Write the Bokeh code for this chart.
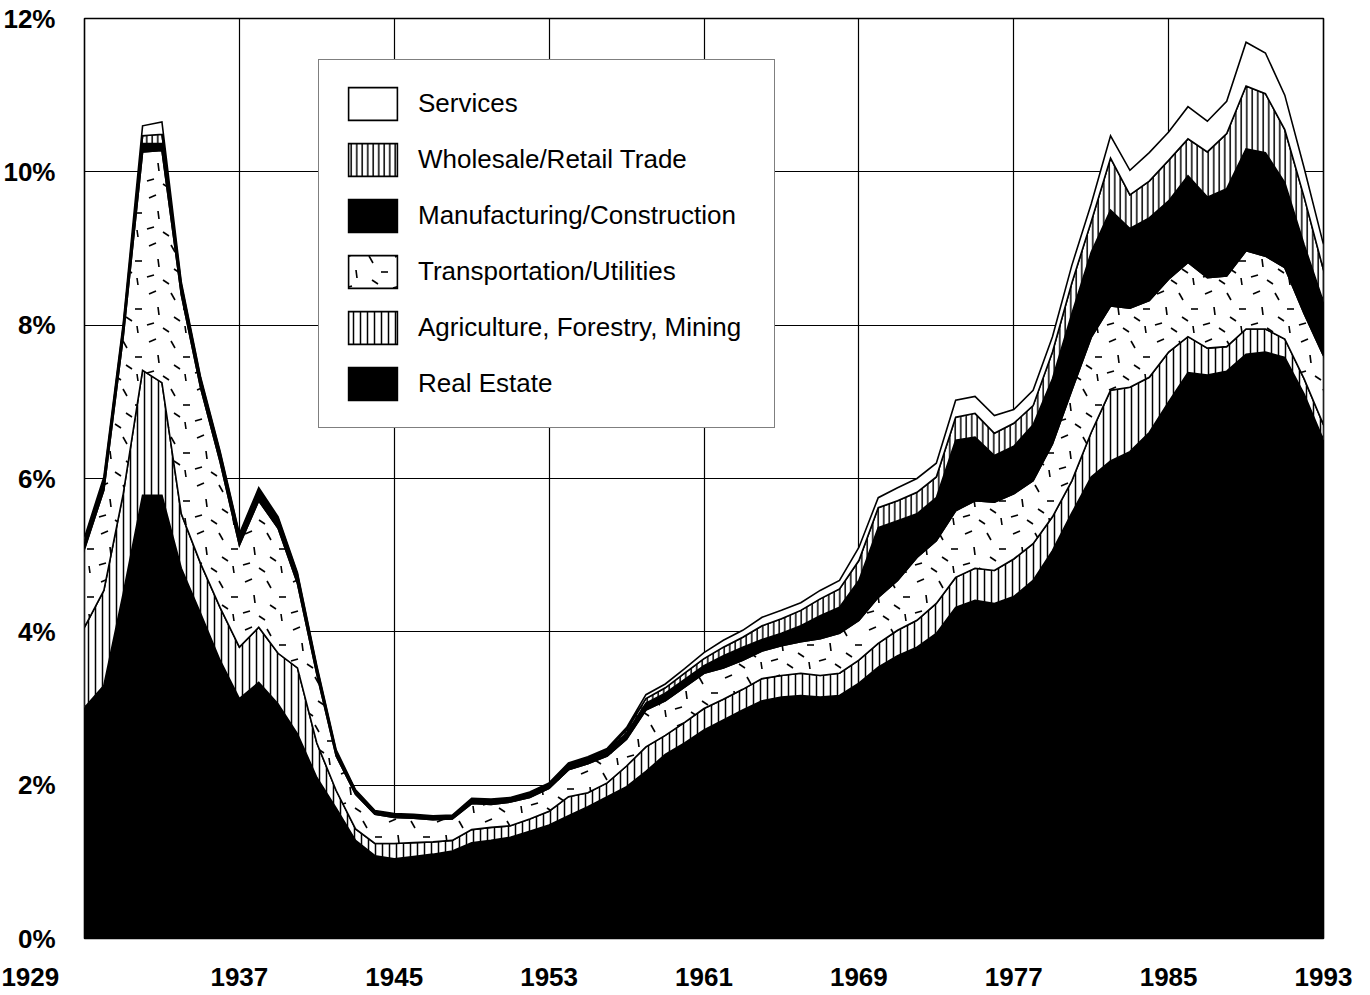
import base64
import numpy as np
from bokeh.plotting import figure
from bokeh.models import FixedTicker, Legend, LegendItem, Range1d, ImageURLTexture
from bokeh.embed import file_html
from bokeh.resources import INLINE

years = list(range(1929, 1994))

real_estate = [3.01, 3.30, 4.50, 5.78, 5.78, 4.83, 4.24, 3.63, 3.13, 3.34,
               3.06, 2.67, 2.10, 1.70, 1.28, 1.08, 1.04, 1.07, 1.10, 1.14,
               1.25, 1.28, 1.32, 1.40, 1.48, 1.60, 1.72, 1.85, 1.98, 2.18,
               2.40, 2.55, 2.72, 2.85, 2.98, 3.10, 3.15, 3.17, 3.15, 3.17,
               3.33, 3.54, 3.69, 3.80, 3.98, 4.32, 4.41, 4.37, 4.46, 4.67,
               5.06, 5.55, 6.02, 6.23, 6.35, 6.60, 7.00, 7.38, 7.35, 7.40,
               7.62, 7.65, 7.58, 7.10, 6.50]
agriculture = [1.05, 1.24, 1.30, 1.63, 1.47, 0.71, 0.65, 0.69, 0.67, 0.72,
               0.66, 0.86, 0.45, 0.23, 0.15, 0.16, 0.20, 0.18, 0.16, 0.14,
               0.17, 0.17, 0.15, 0.16, 0.18, 0.25, 0.18, 0.18, 0.27, 0.32,
               0.25, 0.27, 0.28, 0.27, 0.27, 0.29, 0.28, 0.29, 0.28, 0.29,
               0.30, 0.31, 0.33, 0.35, 0.39, 0.39, 0.42, 0.43, 0.49, 0.48,
               0.44, 0.42, 0.58, 0.92, 0.84, 0.72, 0.65, 0.47, 0.35, 0.32,
               0.33, 0.30, 0.24, 0.20, 0.20]
transport = [1.02, 1.31, 2.05, 2.85, 3.03, 2.86, 2.29, 1.90, 1.33, 1.65,
             1.63, 1.10, 0.90, 0.45, 0.45, 0.38, 0.34, 0.32, 0.29, 0.28,
             0.34, 0.30, 0.31, 0.28, 0.30, 0.35, 0.38, 0.35, 0.35, 0.48,
             0.45, 0.46, 0.46, 0.41, 0.38, 0.36, 0.39, 0.41, 0.48, 0.52,
             0.52, 0.60, 0.65, 0.82, 0.82, 0.87, 0.88, 0.89, 0.85, 0.82,
             0.95, 1.18, 1.24, 1.10, 1.03, 1.00, 0.95, 0.97, 0.92, 0.92,
             1.02, 0.95, 0.93, 0.85, 0.90]
manufacturing = [0.09, 0.10, 0.10, 0.11, 0.09, 0.10, 0.09, 0.09, 0.10, 0.11,
                 0.10, 0.09, 0.07, 0.04, 0.03, 0.03, 0.03, 0.03, 0.03, 0.03,
                 0.04, 0.04, 0.04, 0.04, 0.04, 0.05, 0.05, 0.06, 0.08, 0.09,
                 0.10, 0.10, 0.10, 0.16, 0.17, 0.15, 0.16, 0.21, 0.30, 0.34,
                 0.52, 0.91, 0.78, 0.57, 0.56, 0.92, 0.83, 0.61, 0.62, 0.73,
                 0.85, 1.00, 1.11, 1.25, 1.04, 1.08, 1.02, 1.13, 1.05, 1.14,
                 1.33, 1.35, 1.11, 0.90, 0.70]
trade = [0.03, 0.03, 0.03, 0.10, 0.12, 0.03, 0.03, 0.03, 0.03, 0.03,
         0.03, 0.03, 0.02, 0.02, 0.02, 0.01, 0.01, 0.01, 0.01, 0.01,
         0.01, 0.01, 0.01, 0.02, 0.02, 0.02, 0.02, 0.02, 0.04, 0.06,
         0.07, 0.08, 0.09, 0.11, 0.13, 0.18, 0.19, 0.20, 0.22, 0.24,
         0.26, 0.26, 0.26, 0.28, 0.27, 0.30, 0.31, 0.29, 0.30, 0.25,
         0.35, 0.40, 0.40, 0.68, 0.44, 0.48, 0.53, 0.48, 0.59, 0.72,
         0.82, 0.77, 0.69, 0.62, 0.42]
services = [0.03, 0.04, 0.04, 0.13, 0.16, 0.03, 0.02, 0.02, 0.02, 0.03,
            0.02, 0.02, 0.02, 0.02, 0.01, 0.01, 0.01, 0.01, 0.01, 0.01,
            0.02, 0.02, 0.01, 0.01, 0.01, 0.02, 0.02, 0.02, 0.03, 0.05,
            0.05, 0.06, 0.08, 0.09, 0.09, 0.11, 0.11, 0.10, 0.11, 0.11,
            0.17, 0.13, 0.17, 0.18, 0.18, 0.22, 0.22, 0.23, 0.18, 0.20,
            0.20, 0.23, 0.23, 0.29, 0.32, 0.37, 0.37, 0.42, 0.40, 0.42,
            0.57, 0.53, 0.45, 0.38, 0.33]

sector_names = ["Real Estate", "Agriculture, Forestry, Mining",
                "Transportation/Utilities", "Manufacturing/Construction",
                "Wholesale/Retail Trade", "Services"]
x_tick_years = [1929, 1937, 1945, 1953, 1961, 1969, 1977, 1985, 1993]
y_tick_values = [0, 2, 4, 6, 8, 10, 12]
y_tick_labels = ["0%", "2%", "4%", "6%", "8%", "10%", "12%"]

# scattered short dashes texture (Transportation/Utilities)
dash_svg = (
    "<svg xmlns='http://www.w3.org/2000/svg' width='48' height='48'>"
    "<g stroke='black' stroke-width='1.6' fill='none'>"
    "<line x1='5' y1='6' x2='12' y2='3'/>"
    "<line x1='27' y1='5' x2='31' y2='12'/>"
    "<line x1='39' y1='21' x2='46' y2='21'/>"
    "<line x1='14' y1='19' x2='15' y2='27'/>"
    "<line x1='30' y1='29' x2='36' y2='33'/>"
    "<line x1='3' y1='37' x2='10' y2='35'/>"
    "<line x1='19' y1='40' x2='25' y2='44'/>"
    "<line x1='41' y1='38' x2='42' y2='45'/>"
    "</g></svg>"
)
dash_url = "data:image/svg+xml;base64," + base64.b64encode(dash_svg.encode()).decode()
dash_texture = ImageURLTexture(url=dash_url, repetition="repeat")

series = [real_estate, agriculture, transport, manufacturing, trade, services]
styles = [
    dict(fill_color="black"),
    dict(fill_color="white", hatch_pattern="vertical_line", hatch_scale=7, hatch_weight=1.5, hatch_color="black"),
    dict(fill_color="white", hatch_pattern="scatter_dash", hatch_extra={"scatter_dash": dash_texture},
         hatch_color="black"),
    dict(fill_color="black"),
    dict(fill_color="white", hatch_pattern="vertical_line", hatch_scale=5.5, hatch_weight=1.5, hatch_color="black"),
    dict(fill_color="white"),
]

p = figure(width=1363, height=994, output_backend="svg", toolbar_location=None,
           x_range=Range1d(1929, 1993), y_range=Range1d(0, 12),
           min_border_left=84, min_border_right=40, min_border_top=18, min_border_bottom=56)

yrs = np.array(years, dtype=float)
bottom = np.zeros(len(years))
renderers = []
for vals, st in zip(series, styles):
    top = bottom + np.array(vals, dtype=float)
    xs = np.concatenate([yrs, yrs[::-1]])
    ys = np.concatenate([top, bottom[::-1]])
    r = p.patch(xs, ys, line_color="black", line_width=1.6, line_join="miter", **st)
    renderers.append(r)
    bottom = top

items = [LegendItem(label=n, renderers=[r]) for n, r in zip(sector_names, renderers)]
legend = Legend(items=items[::-1], location=(234, 510),
                glyph_width=61, glyph_height=41, label_height=41, label_width=333,
                label_standoff=15, spacing=15, padding=23, margin=0,
                label_text_font="Liberation Sans", label_text_font_size="26px",
                label_text_color="black",
                border_line_color="black", border_line_width=1.6,
                background_fill_color="white", background_fill_alpha=1.0)
p.add_layout(legend, "center")

p.xaxis.ticker = FixedTicker(ticks=x_tick_years)
p.yaxis.ticker = FixedTicker(ticks=y_tick_values)
p.xgrid.ticker = FixedTicker(ticks=x_tick_years)
p.ygrid.ticker = FixedTicker(ticks=y_tick_values)
p.yaxis.major_label_overrides = {v: s for v, s in zip(y_tick_values, y_tick_labels)}
# first year label sits left of the frame edge, as in the original
p.xaxis.major_label_overrides = {x_tick_years[0]: str(x_tick_years[0]) + "\u00a0" * 15}

for ax in (p.xaxis, p.yaxis):
    ax.axis_line_color = None
    ax.major_tick_line_color = None
    ax.minor_tick_line_color = None
    ax.major_label_text_font = "Liberation Sans"
    ax.major_label_text_font_style = "bold"
    ax.major_label_text_font_size = "26px"
    ax.major_label_text_color = "black"
p.xaxis.major_label_standoff = 17
p.yaxis.major_label_standoff = 23

for g in (p.xgrid, p.ygrid):
    g.grid_line_color = "black"
    g.grid_line_alpha = 1.0
    g.grid_line_width = 1.2

p.outline_line_color = "black"
p.outline_line_width = 1.6
p.background_fill_color = "white"

open("out.html", "w").write(file_html(p, INLINE))
